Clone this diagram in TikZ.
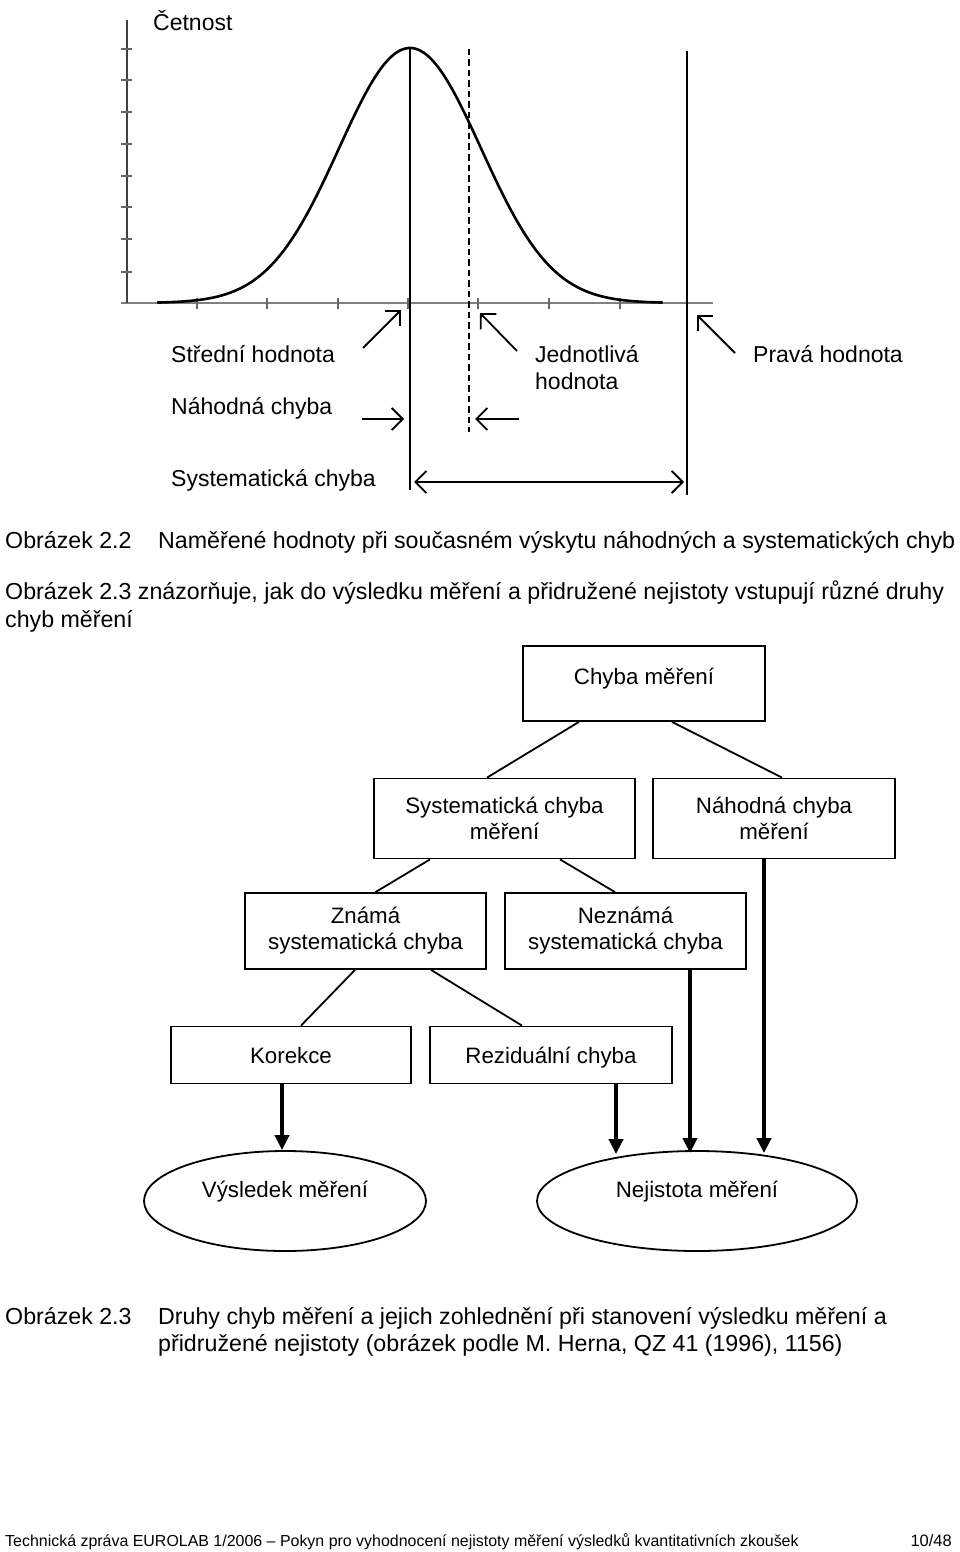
\documentclass[tikz,border=0pt]{standalone}
\usepackage{fontspec}
\setmainfont{Liberation Sans}
\usetikzlibrary{arrows.meta,shapes.geometric,calc}
\begin{document}
\begin{tikzpicture}[x=1pt,y=-1pt,
  txt/.style={font=\fontsize{23}{27}\selectfont, inner sep=0pt, anchor=base west},
  captxt/.style={font=\fontsize{23.2}{27}\selectfont, inner sep=0pt, anchor=base west},
  box/.style={draw, line width=1.8pt, rectangle, align=center, inner sep=2pt,
    font=\fontsize{22.3}{26}\selectfont},
  onebox/.style={box, text height=22pt, text depth=5pt},
  oval/.style={draw, line width=1.8pt, ellipse, inner sep=0pt,
    font=\fontsize{22.3}{26}\selectfont},
  link/.style={line width=1.8pt},
  flow/.style={line width=4pt, -{Triangle[length=15pt,width=14pt]}},
  barb/.style={line width=1.8pt, -{Straight Barb[length=11pt,width=22pt]}},
  barbs/.style={line width=1.8pt, {Straight Barb[length=11pt,width=22pt]}-{Straight Barb[length=11pt,width=22pt]}},
  tickmark/.style={line width=1.8pt, gray!80!black}
]
\useasboundingbox (0,0) rectangle (960,1552);
\fill[white] (0,0) rectangle (960,1552);

% ---------- Figure 2.2 : graph ----------
\coordinate (yaxtop) at (127,20);
\coordinate (origin) at (127,303);
\coordinate (xaxl) at (121,303);
\coordinate (xaxr) at (713,303);
\draw[line width=2.4pt, gray] (xaxl) -- (xaxr);
\draw[line width=2pt, black!75] (origin) -- (yaxtop);
\foreach \t in {49,80,112,144,176,207,239,272}
  \draw[tickmark] (121,\t) -- (132,\t);
\foreach \t in {197,267,338,408,478,549,620}
  \draw[tickmark] (\t,298) -- (\t,309);
\draw[line width=2.6pt, line join=round] plot[domain=-3.56:3.56, samples=140, smooth]
  ({410+71*\x},{303-255*exp(-\x*\x/2)});
\coordinate (mtop) at (410,48);   \coordinate (mbot) at (410,490);
\coordinate (jtop) at (469,49);   \coordinate (jbot) at (469,432);
\coordinate (ptop) at (687,51);   \coordinate (pbot) at (687,495);
\draw[line width=2.8pt] (mtop) -- (mbot);
\draw[line width=2pt, dash pattern=on 6.5pt off 4pt] (jtop) -- (jbot);
\draw[line width=2.8pt] (ptop) -- (pbot);

\node[txt] (cetnost) at (153,31) {Četnost};
\node[txt] (stred) at (171,362) {Střední hodnota};
\node[txt] (nahod) at (171,414) {Náhodná chyba};
\node[txt] (syst) at (171,486) {Systematická chyba};
\node[txt] (jedn) at (535,362) {Jednotlivá};
\node[txt] (jedn2) at (535,389) {hodnota};
\node[txt] (prava) at (753,362) {Pravá hodnota};

\coordinate (a1s) at (363,348); \coordinate (a1e) at (401,310);
\coordinate (a2s) at (517,351); \coordinate (a2e) at (480,313);
\coordinate (a3s) at (735,353); \coordinate (a3e) at (697,315);
\coordinate (a4s) at (362,419); \coordinate (a4e) at (404,419);
\coordinate (a5s) at (519,419); \coordinate (a5e) at (475,419);
\coordinate (a6s) at (414,482); \coordinate (a6e) at (684,482);
\draw[barb] (a1s) -- (a1e);
\draw[barb] (a2s) -- (a2e);
\draw[barb] (a3s) -- (a3e);
\draw[barb] (a4s) -- (a4e);
\draw[barb] (a5s) -- (a5e);
\draw[barbs] (a6s) -- (a6e);

\node[captxt] (c22) at (5,548) {Obrázek 2.2};
\node[captxt] (c22t) at (158,548) {Naměřené hodnoty při současném výskytu náhodných a systematických chyb};
\node[captxt] (p1) at (5,599) {Obrázek 2.3 znázorňuje, jak do výsledku měření a přidružené nejistoty vstupují různé druhy};
\node[captxt] (p2) at (5,627) {chyb měření};

% ---------- Figure 2.3 : flowchart ----------
\node[box, minimum width=242pt, minimum height=75pt] (chyba) at (644,683.5) {\raisebox{15pt}{Chyba měření}};
\node[box, minimum width=261pt, minimum height=80pt] (sch) at (504.5,818.5) {Systematická chyba\\měření};
\node[box, minimum width=242pt, minimum height=80pt] (nch) at (774,818.5) {Náhodná chyba\\měření};
\node[box, minimum width=241pt, minimum height=76pt] (zn) at (365.5,931) {Známá\\systematická chyba};
\node[box, minimum width=241pt, minimum height=76pt] (nz) at (625.5,931) {Neznámá\\systematická chyba};
\node[onebox, minimum width=240pt, minimum height=57pt] (kor) at (291,1055) {Korekce};
\node[onebox, minimum width=242pt, minimum height=57pt] (rez) at (551,1055) {Reziduální chyba};
\node[oval, minimum width=282pt, minimum height=100pt] (vys) at (285,1201) {\raisebox{24pt}{Výsledek měření}};
\node[oval, minimum width=320pt, minimum height=100pt] (nej) at (697,1201) {\raisebox{24pt}{Nejistota měření}};

\draw[link] ($(chyba.south)+(-65,0)$) -- ($(sch.north)+(-17.5,0)$);
\draw[link] ($(chyba.south)+(28,0)$) -- ($(nch.north)+(8,0)$);
\draw[link] ($(sch.south)+(-74.5,0)$) -- ($(zn.north)+(10,0)$);
\draw[link] ($(sch.south)+(55.5,0)$) -- ($(nz.north)+(-10.5,0)$);
\draw[link] ($(zn.south)+(-10.5,0)$) -- ($(kor.north)+(10,0)$);
\draw[link] ($(zn.south)+(65.5,0)$) -- ($(rez.north)+(-29,0)$);

\coordinate (f1) at ($(kor.south)+(-9,0)$);
\coordinate (f2) at ($(rez.south)+(65,0)$);
\coordinate (f3) at ($(nz.south)+(64.5,0)$);
\coordinate (f4) at ($(nch.south)+(-10,0)$);
\draw[flow] (f1) -- (f1 |- vys.north);
\draw[flow] (f2) -- ($(f2 |- nej.north)+(0,4)$);
\draw[flow] (f3) -- ($(f3 |- nej.north)+(0,3)$);
\draw[flow] (f4) -- ($(f4 |- nej.north)+(0,3)$);

\node[captxt] (c23) at (5,1324) {Obrázek 2.3};
\node[captxt] (c23a) at (158,1324) {Druhy chyb měření a jejich zohlednění při stanovení výsledku měření a};
\node[captxt] (c23b) at (158,1351) {přidružené nejistoty (obrázek podle M. Herna, QZ 41 (1996), 1156)};

\node[font=\fontsize{15.95}{18}\selectfont, inner sep=0pt, anchor=base west] (foot) at (5,1546)
  {Technická zpráva EUROLAB 1/2006 – Pokyn pro vyhodnocení nejistoty měření výsledků kvantitativních zkoušek};
\node[font=\fontsize{16.5}{18}\selectfont, inner sep=0pt, anchor=base east] (page) at (952,1546) {10/48};
\end{tikzpicture}
\end{document}
